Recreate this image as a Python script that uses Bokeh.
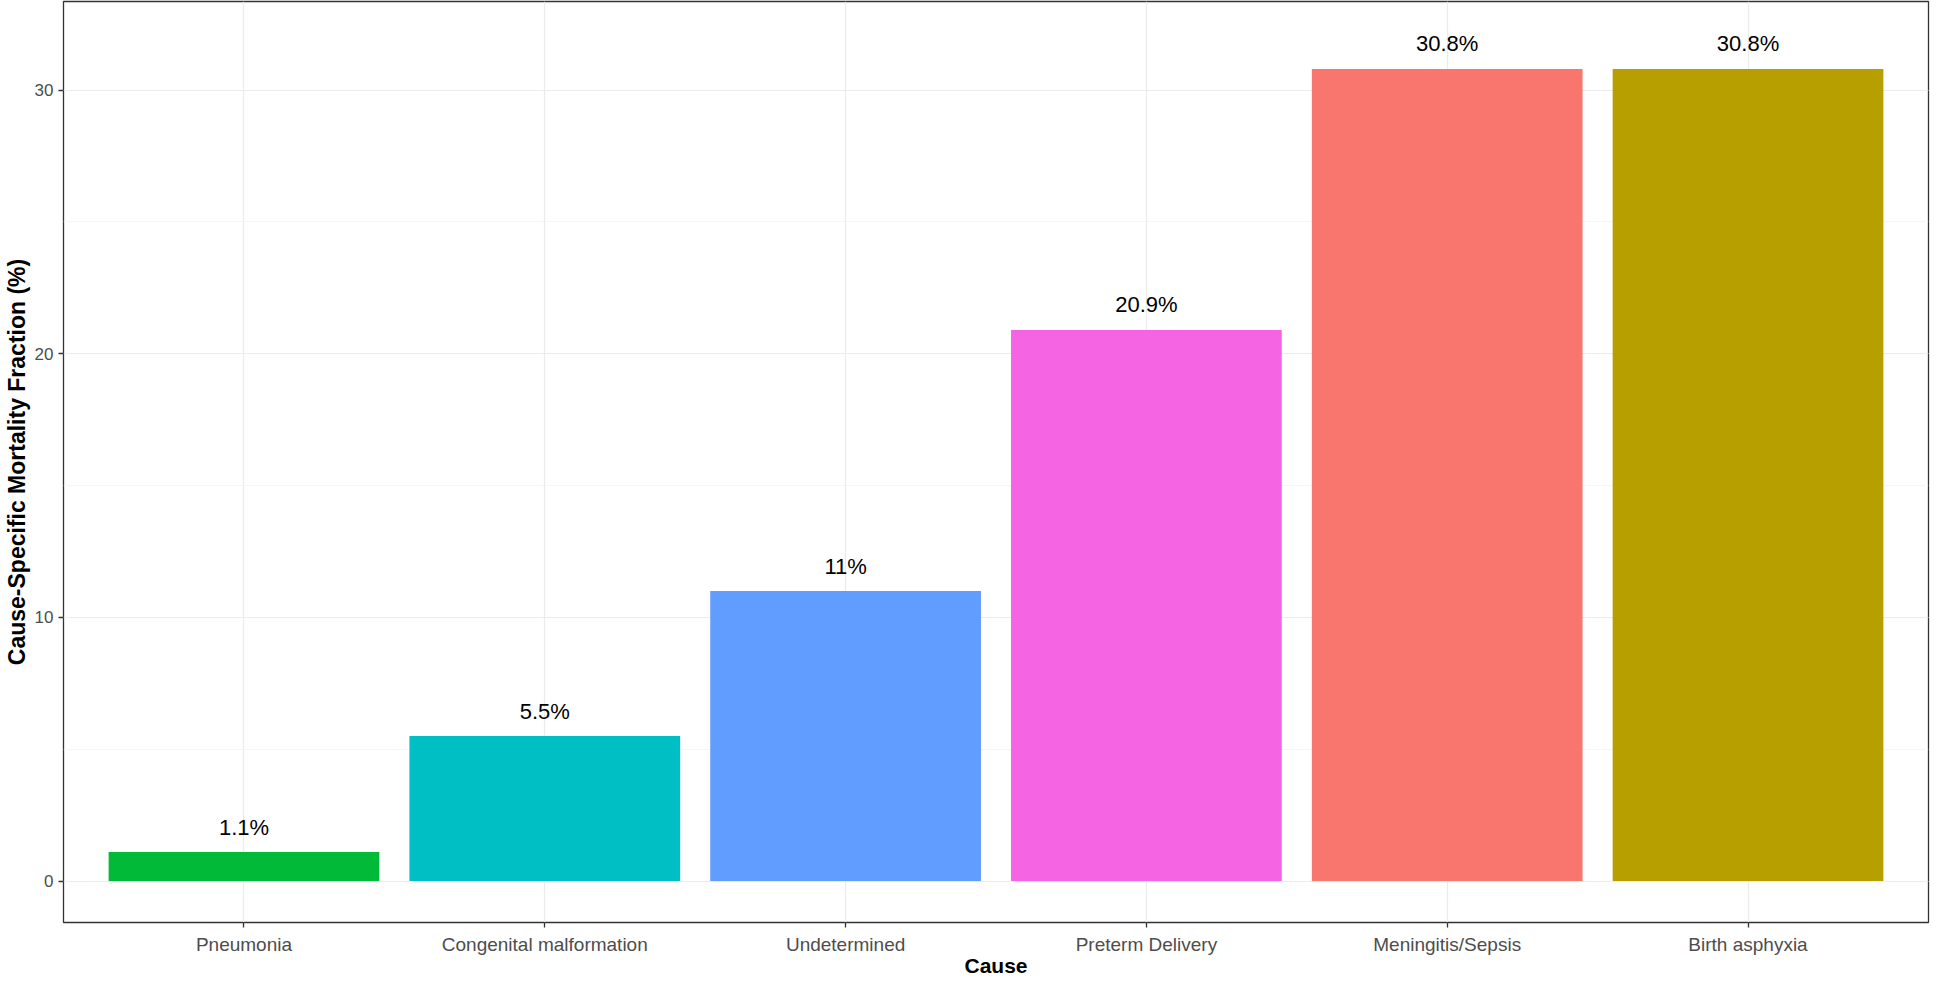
from bokeh.plotting import figure
from bokeh.models import ColumnDataSource, Range1d, FixedTicker, SingleIntervalTicker
from bokeh.core.properties import value
from bokeh.embed import file_html
from bokeh.resources import INLINE

causes = ["Pneumonia", "Congenital malformation", "Undetermined",
          "Preterm Delivery", "Meningitis/Sepsis", "Birth asphyxia"]
fractions = [1.1, 5.5, 11.0, 20.9, 30.8, 30.8]
labels = ["1.1%", "5.5%", "11%", "20.9%", "30.8%", "30.8%"]
colors = ["#00BA38", "#00BFC4", "#619CFF", "#F564E3", "#F8766D", "#B79F00"]

FONT = "Liberation Sans"
pos = list(range(len(causes)))
src = ColumnDataSource(dict(
    x=pos, top=fractions, label=labels, color=colors,
    ly=[v + 0.95 for v in fractions],
))

p = figure(width=1930, height=979, output_backend="svg", toolbar_location=None,
           x_range=Range1d(-0.6, len(causes) - 0.4),
           y_range=Range1d(-1.57, 33.36),
           min_border_left=56, min_border_right=2, min_border_top=1, min_border_bottom=0)

p.vbar(x="x", top="top", bottom=0, width=0.9, fill_color="color", line_color=None, source=src)
p.text(x="x", y="ly", text="label", source=src, text_align="center", text_baseline="middle",
       text_font=value(FONT), text_font_size="22px", text_color="black")

p.xaxis.ticker = FixedTicker(ticks=pos)
p.xaxis.major_label_overrides = {i: c for i, c in enumerate(causes)}
p.yaxis.ticker = SingleIntervalTicker(interval=10, num_minor_ticks=2)

p.xaxis.axis_label = "Cause"
p.yaxis.axis_label = "Cause-Specific Mortality Fraction (%)"

for ax in (p.xaxis[0], p.yaxis[0]):
    ax.axis_line_color = None
    ax.major_tick_line_color = "#333333"
    ax.major_tick_line_width = 1.3
    ax.major_tick_out = 5
    ax.major_tick_in = 0
    ax.minor_tick_line_color = None
    ax.major_label_text_font = FONT
    ax.major_label_text_color = "#4D4D4D"
    ax.axis_label_text_font = FONT
    ax.axis_label_text_font_style = "bold"
    ax.axis_label_text_color = "black"
    ax.major_label_text_line_height = 1.0
    ax.axis_label_text_line_height = 1.0

p.xaxis.axis_label_text_font_size = "21px"
p.yaxis.axis_label_text_font_size = "23px"
p.xaxis.major_label_text_font_size = "19px"
p.yaxis.major_label_text_font_size = "17px"
p.xaxis.major_label_standoff = 6
p.yaxis.major_label_standoff = 5
p.xaxis.axis_label_standoff = -4
p.yaxis.axis_label_standoff = 2

p.xgrid.grid_line_color = "#EBEBEB"
p.xgrid.grid_line_width = 1.2
p.ygrid.grid_line_color = "#EBEBEB"
p.ygrid.grid_line_width = 1.2
p.ygrid.minor_grid_line_color = "#F2F2F2"
p.ygrid.minor_grid_line_width = 0.8

p.outline_line_color = "#333333"
p.outline_line_width = 1.3
p.background_fill_color = "white"
p.border_fill_color = "white"

open("out.html", "w").write(file_html(p, INLINE))
